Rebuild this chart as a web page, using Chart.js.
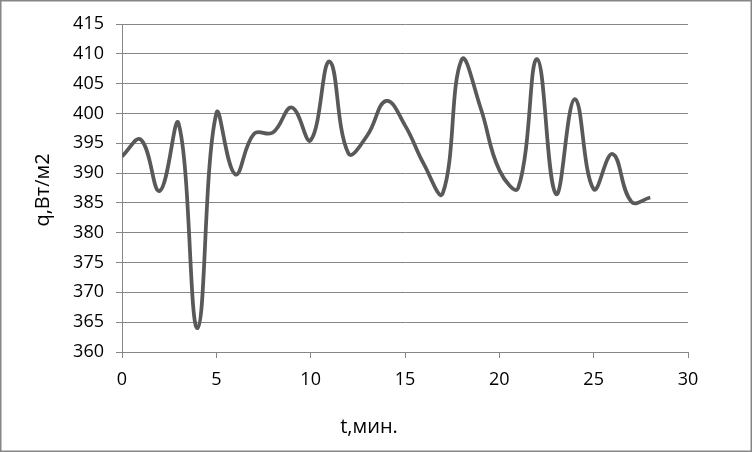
<!DOCTYPE html>
<html>
<head>
<meta charset="utf-8">
<script src="https://cdn.jsdelivr.net/npm/chart.js@4"></script>
<style>
html,body{margin:0;padding:0;background:#fff;}
#wrap{width:752px;height:452px;position:relative;}
</style>
</head>
<body>
<div id="wrap"><canvas id="c" width="752" height="452"></canvas></div>
<script>
const times = [0,1,2,3,4,5,6,7,8,9,10,11,12,13,14,15,16,17,18,19,20,21,22,23,24,25,26,27,28];
const qValues = [392.8,395.6,387.0,398.3,364.0,400.0,389.8,396.6,396.8,401.0,395.5,408.7,393.3,396.3,402.1,398.0,391.5,386.6,409.0,401.0,390.5,387.5,409.1,386.5,402.4,387.3,393.2,385.2,385.9];
const xTitle = 't,мин.';
const yTitle = 'q,Вт/м2';

const FONT = '"Open Sans", "Liberation Sans", sans-serif';
const GRID = '#868686';

const extras = {
  id: 'extras',
  afterDraw(chart) {
    const ctx = chart.ctx;
    ctx.save();
    ctx.strokeStyle = GRID;
    ctx.lineWidth = 1.5;
    ctx.strokeRect(0.75, 0.75, 750.5, 450.5);
    ctx.fillStyle = '#000';
    ctx.font = '20px ' + FONT;
    ctx.textAlign = 'center';
    ctx.textBaseline = 'middle';
    ctx.fillText(xTitle, 369, 427);
    ctx.translate(43, 190);
    ctx.rotate(-Math.PI / 2);
    ctx.fillText(yTitle, 0, 0);
    ctx.restore();
  }
};

new Chart(document.getElementById('c'), {
  type: 'line',
  data: {
    datasets: [{
      data: times.map((t, i) => ({x: t, y: qValues[i]})),
      borderColor: '#595959',
      borderWidth: 3.75,
      pointRadius: 0,
      tension: 0.42,
      fill: false
    }]
  },
  options: {
    responsive: false,
    animation: false,
    layout: {padding: {top: 24, right: 64, bottom: 0, left: 0}},
    plugins: {legend: {display: false}, tooltip: {enabled: false}},
    scales: {
      x: {
        type: 'linear',
        min: 0, max: 30,
        afterFit(s) { s.height = 100; },
        ticks: {stepSize: 5, color: '#000', font: {family: FONT, size: 18}, padding: 11, maxRotation: 0},
        grid: {drawOnChartArea: false, drawTicks: true, tickLength: 6, color: GRID},
        border: {color: GRID}
      },
      y: {
        min: 360, max: 415,
        afterFit(s) { s.width = 122; },
        ticks: {stepSize: 5, color: '#000', font: {family: FONT, size: 18}, padding: 12},
        grid: {color: GRID, tickLength: 6},
        border: {color: GRID}
      }
    }
  },
  plugins: [extras]
});
</script>
</body>
</html>
